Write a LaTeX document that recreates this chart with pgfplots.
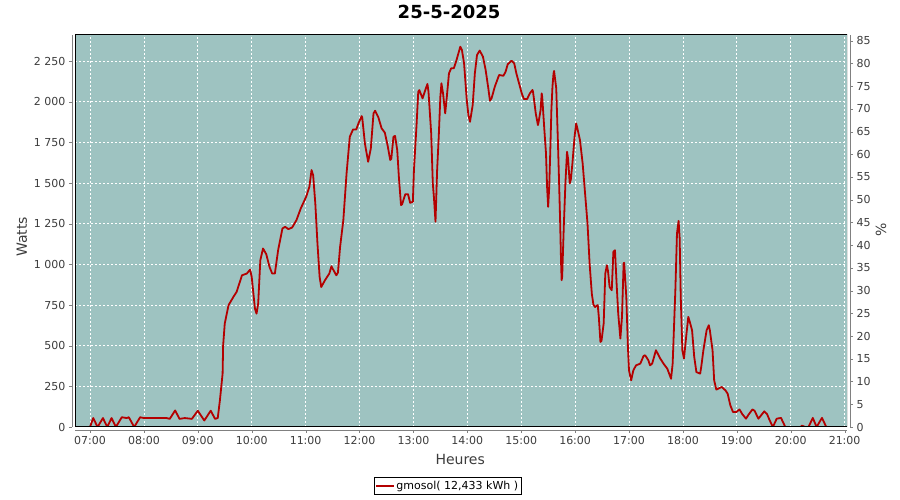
\documentclass[border=0pt]{standalone}
\usepackage{pgfplots}
\pgfplotsset{compat=1.18}
\usepackage{fontspec}
\setmainfont{DejaVu Sans}
\definecolor{bg}{RGB}{158,195,193}
\definecolor{ln}{RGB}{180,0,0}
\definecolor{tk}{RGB}{60,60,60}
\begin{document}
\begin{tikzpicture}
\path[use as bounding box] (0pt,0pt) rectangle (900pt,500pt);
\begin{axis}[
  at={(75pt,73pt)}, anchor=south west,
  scale only axis, width=772pt, height=392pt,
  xmin=6.7216, xmax=21.0445, ymin=0, ymax=2411,
  axis background/.style={fill=bg},
  axis x line*=bottom, axis y line*=left,
  axis x line shift=3pt, axis y line shift=3pt,
  x axis line style={-, gray}, y axis line style={-, gray},
  tick align=outside, major tick length=3pt,
  tick style={gray},
  /pgf/number format/assume math mode=true,
  xtick={7,8,...,21},
  xticklabels={07:00,08:00,09:00,10:00,11:00,12:00,13:00,14:00,15:00,16:00,17:00,18:00,19:00,20:00,21:00},
  ytick={0,250,...,2250},
  yticklabels={0,250,500,750,1 000,1 250,1 500,1 750,2 000,2 250},
  tick label style={font=\fontsize{11}{13}\selectfont, text=tk},
  grid=major,
  major grid style={white, dash pattern=on 2pt off 2pt, line width=0.8pt},
  title={25-5-2025},
  title style={at={(axis description cs:0.4845,1.0446)}, anchor=center, font=\fontsize{18}{21}\selectfont\bfseries},
  xlabel={Heures},
  xlabel style={at={(axis description cs:0.499,-0.084)}, anchor=center, font=\fontsize{14}{16}\selectfont, text=tk},
  ylabel={Watts},
  ylabel style={at={(axis description cs:-0.0687,0.485)}, anchor=center, rotate=0, font=\fontsize{14}{16}\selectfont, text=tk},
  legend style={at={(axis description cs:0.483,-0.1276)}, anchor=north, draw=black, font=\fontsize{11}{13}\selectfont, inner sep=1.5pt},
  legend cell align=left,
]
\addplot[color=ln, line width=1.8pt, line join=round] coordinates {
(7.00,0) (7.06,55) (7.14,0) (7.24,55) (7.32,0) (7.40,55) (7.48,0) (7.59,60) (7.68,55) (7.72,60) (7.82,0) (7.93,60) (8.00,55)
(8.42,55) (8.48,50) (8.58,102) (8.66,50) (8.76,55) (8.89,50) (9.00,100) (9.12,40) (9.24,100) (9.32,50) (9.37,55)
(9.41,164) (9.46,328) (9.47,502) (9.50,636) (9.57,749) (9.66,800) (9.72,831) (9.82,933) (9.91,944) (9.97,968) (10.00,923)
(10.06,728) (10.09,697) (10.12,759) (10.16,1026) (10.21,1098) (10.27,1063) (10.33,985) (10.38,944) (10.43,944) (10.49,1087)
(10.57,1221) (10.62,1231) (10.68,1217) (10.75,1227) (10.83,1272) (10.91,1344) (11.01,1416) (11.07,1477) (11.11,1580) (11.14,1549)
(11.18,1375) (11.22,1129) (11.26,923) (11.29,861) (11.36,903) (11.44,944) (11.48,989) (11.50,975) (11.57,933) (11.60,950)
(11.64,1108) (11.70,1272) (11.76,1560) (11.82,1785) (11.88,1830) (11.94,1830) (11.98,1867) (12.04,1912) (12.05,1905)
(12.10,1744) (12.16,1631) (12.21,1713) (12.26,1929) (12.29,1945) (12.35,1904) (12.41,1837) (12.47,1810) (12.52,1734)
(12.57,1642) (12.59,1650) (12.63,1785) (12.66,1790) (12.70,1703) (12.73,1539) (12.77,1365) (12.79,1370) (12.85,1432)
(12.90,1432) (12.94,1379) (12.99,1385) (13.01,1580) (13.06,1868) (13.09,2062) (13.11,2072) (13.17,2021) (13.21,2062)
(13.26,2110) (13.28,2062) (13.33,1806) (13.36,1498) (13.38,1416) (13.41,1262) (13.44,1580) (13.47,1785) (13.50,2031)
(13.52,2114) (13.55,2051) (13.59,1929) (13.62,2031) (13.66,2175) (13.70,2206) (13.75,2206) (13.80,2257) (13.87,2339)
(13.90,2319) (13.94,2237) (13.99,2011) (14.02,1919) (14.05,1877) (14.10,1980) (14.14,2175) (14.18,2288) (14.23,2315)
(14.29,2278) (14.34,2196) (14.39,2083) (14.42,2007) (14.45,2021) (14.51,2093) (14.59,2165) (14.67,2160) (14.71,2185)
(14.75,2231) (14.82,2253) (14.87,2237) (14.91,2175) (14.96,2114) (15.01,2052) (15.05,2017) (15.11,2017) (15.16,2052)
(15.21,2073) (15.22,2060) (15.27,1929) (15.31,1857) (15.32,1870) (15.36,1950) (15.38,2052) (15.39,2030) (15.43,1826)
(15.46,1683) (15.48,1477) (15.50,1354) (15.52,1477) (15.54,1703) (15.56,1950) (15.58,2093) (15.60,2175) (15.61,2190)
(15.65,2083) (15.68,1765) (15.70,1539) (15.72,1293) (15.74,1006) (15.75,903) (15.76,923) (15.79,1231) (15.82,1498)
(15.85,1693) (15.87,1650) (15.90,1498) (15.92,1520) (15.95,1621) (15.99,1785) (16.02,1867) (16.04,1840) (16.09,1765)
(16.14,1621) (16.18,1457) (16.23,1252) (16.27,1000) (16.31,820) (16.34,752) (16.37,738) (16.42,750) (16.44,677)
(16.47,523) (16.49,530) (16.53,636) (16.56,944) (16.59,995) (16.61,960) (16.64,861) (16.68,841) (16.71,1077) (16.74,1087)
(16.77,882) (16.80,697) (16.84,544) (16.87,677) (16.90,1006) (16.91,1010) (16.95,800) (16.98,492) (17.00,348) (17.04,287)
(17.08,348) (17.13,379) (17.21,390) (17.27,437) (17.30,441) (17.36,410) (17.39,379) (17.43,390) (17.50,472) (17.58,421)
(17.64,390) (17.71,359) (17.78,297) (17.81,390) (17.86,841) (17.89,1190) (17.92,1268) (17.94,1160) (17.96,800) (17.99,472)
(18.02,421) (18.06,554) (18.10,677) (18.12,656) (18.17,595) (18.21,431) (18.25,338) (18.32,328) (18.34,369) (18.38,472)
(18.44,595) (18.48,626) (18.50,595) (18.55,472) (18.58,287) (18.62,230) (18.66,236) (18.72,246) (18.79,225) (18.83,205)
(18.88,133) (18.93,92) (18.99,92) (19.05,108) (19.10,80) (19.17,51) (19.22,77) (19.29,108) (19.33,100) (19.40,51)
(19.51,96) (19.56,80) (19.61,41) (19.67,0) (19.74,51) (19.82,56) (19.90,0) (20.18,0) (20.21,8) (20.27,0) (20.33,0)
(20.41,56) (20.48,0) (20.58,56) (20.66,0) (20.75,0)
};
\addlegendentry{gmosol( 12,433 kWh )}
\draw[black, line width=1pt] (rel axis cs:0,0) rectangle (rel axis cs:1,1);
\end{axis}
\begin{axis}[
  at={(75pt,73pt)}, anchor=south west,
  scale only axis, width=772pt, height=392pt,
  xmin=6.7216, xmax=21.0445, ymin=0, ymax=86.26,
  axis y line*=right, axis y line shift=3pt, hide x axis,
  y axis line style={-, gray},
  tick align=outside, major tick length=3pt,
  tick style={gray},
  /pgf/number format/assume math mode=true,
  ytick={0,5,...,85},
  tick label style={font=\fontsize{11}{13}\selectfont, text=tk},
  ylabel={\%},
  ylabel style={at={(axis description cs:1.044,0.503)}, anchor=center, font=\fontsize{14}{16}\selectfont, text=tk},
]
\addplot[draw=none] coordinates {(7,0) (21,0)};
\end{axis}
\end{tikzpicture}
\end{document}
